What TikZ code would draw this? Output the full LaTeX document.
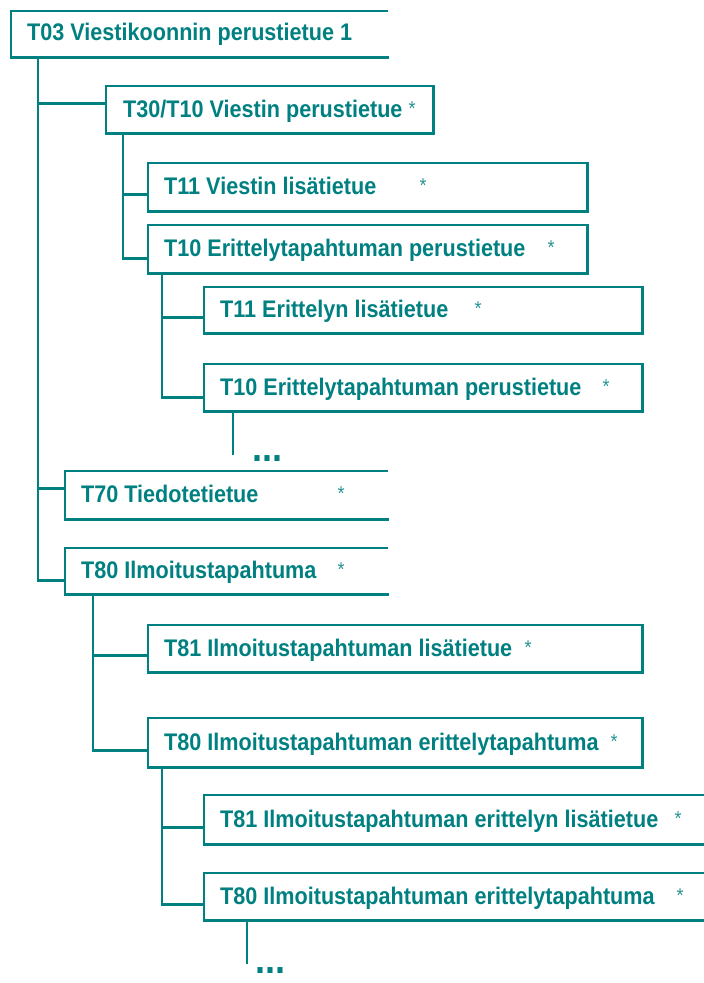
\documentclass[tikz,border=0pt]{standalone}
\usepackage{fontspec}
\setmainfont{Liberation Sans}[FakeStretch=0.9]
\definecolor{tl}{RGB}{0,128,128}
\tikzset{
  boxn/.style={draw=none, inner sep=0pt, anchor=north west, rectangle},
  lbl/.style={anchor=base west, inner sep=0pt, text=tl, font=\fontsize{24}{28}\selectfont\bfseries},
  starn/.style={anchor=base, inner sep=0pt, text=tl!85, font=\fontsize{20}{24}\selectfont},
  dotsn/.style={anchor=base west, inner sep=0pt, text=tl, font=\fontsize{40}{44}\selectfont\bfseries},
  thinb/.style={draw=tl, line width=1.6pt, line cap=rect},
  thickb/.style={draw=tl, line width=3pt, line cap=rect},
  conn/.style={draw=tl, line width=2.9pt},
}
\begin{document}
\begin{tikzpicture}[x=1pt,y=-1pt]
\useasboundingbox (0,0) rectangle (704,983);
% boxes
\node[boxn, minimum width=376pt, minimum height=46pt] (b1) at (11,11) {};
\node[boxn, minimum width=327pt, minimum height=47pt] (b2) at (106,86) {};
\node[boxn, minimum width=439pt, minimum height=48pt] (b3) at (148,163) {};
\node[boxn, minimum width=439pt, minimum height=48pt] (b4) at (148,225) {};
\node[boxn, minimum width=438pt, minimum height=46pt] (b5) at (204,287) {};
\node[boxn, minimum width=438pt, minimum height=47pt] (b6) at (204,364) {};
\node[boxn, minimum width=322pt, minimum height=48pt] (b7) at (65,471) {};
\node[boxn, minimum width=322pt, minimum height=46pt] (b8) at (65,548) {};
\node[boxn, minimum width=494pt, minimum height=47pt] (b9) at (148,625) {};
\node[boxn, minimum width=494pt, minimum height=49pt] (b10) at (148,718) {};
\node[boxn, minimum width=502pt, minimum height=49pt] (b11) at (204,795) {};
\node[boxn, minimum width=502pt, minimum height=47pt] (b12) at (204,873) {};
% closed boxes
\foreach \b in {b2,b3,b4,b5,b6,b9,b10}{
  \draw[thinb] (\b.south west) -- (\b.north west) -- (\b.north east);
  \draw[thickb] (\b.south west) -- (\b.south east) -- (\b.north east);
}
% boxes open on the right
\foreach \b in {b1,b7,b8,b11,b12}{
  \draw[thinb] (\b.north east) -- (\b.north west) -- (\b.south west);
  \draw[thickb] (\b.south west) -- (\b.south east);
}
% labels
\node[lbl] (l1) at (27,40) {T03 Viestikoonnin perustietue 1};
\node[lbl] (l2) at (123,117) {T30/T10 Viestin perustietue};
\node[lbl] (l3) at (164,194) {T11 Viestin lisätietue};
\node[lbl] (l4) at (164,256) {T10 Erittelytapahtuman perustietue};
\node[lbl] (l5) at (220,317) {T11 Erittelyn lisätietue};
\node[lbl] (l6) at (220,395) {T10 Erittelytapahtuman perustietue};
\node[lbl] (l7) at (81,502) {T70 Tiedotetietue};
\node[lbl] (l8) at (81,578) {T80 Ilmoitustapahtuma};
\node[lbl] (l9) at (164,656) {T81 Ilmoitustapahtuman lisätietue};
\node[lbl] (l10) at (164,750) {T80 Ilmoitustapahtuman erittelytapahtuma};
\node[lbl] (l11) at (220,827) {T81 Ilmoitustapahtuman erittelyn lisätietue};
\node[lbl] (l12) at (220,904) {T80 Ilmoitustapahtuman erittelytapahtuma};
% stars
\node[starn] (s2) at (412,115) {*};
\node[starn] (s3) at (423,192) {*};
\node[starn] (s4) at (551,254) {*};
\node[starn] (s5) at (478,315) {*};
\node[starn] (s6) at (606,393) {*};
\node[starn] (s7) at (341,500) {*};
\node[starn] (s8) at (341,576) {*};
\node[starn] (s9) at (528,654) {*};
\node[starn] (s10) at (614,748) {*};
\node[starn] (s11) at (678,825) {*};
\node[starn] (s12) at (680,902) {*};
% dots
\node[dotsn] (d1) at (252,461) {...};
\node[dotsn] (d2) at (255,973) {...};
\coordinate (e1) at (233,455);
\coordinate (e2) at (247,964);
% connectors
\draw[conn] ([xshift=27pt]b1.south west) |- ([yshift=6.5pt]b2.west);
\draw[conn] ([xshift=27pt]b1.south west) |- ([yshift=7pt]b7.west);
\draw[conn] ([xshift=27pt]b1.south west) |- ([yshift=-9pt]b8.west);
\draw[conn] ([xshift=17pt]b2.south west) |- ([yshift=-7pt]b3.west);
\draw[conn] ([xshift=17pt]b2.south west) |- ([yshift=-9pt]b4.west);
\draw[conn] ([xshift=14pt]b4.south west) |- ([yshift=-7pt]b5.west);
\draw[conn] ([xshift=14pt]b4.south west) |- ([yshift=-9.5pt]b6.west);
\draw[conn] ([xshift=29pt]b6.south west) -- (e1);
\draw[conn] ([xshift=28pt]b8.south west) |- ([yshift=-6.5pt]b9.west);
\draw[conn] ([xshift=28pt]b8.south west) |- ([yshift=-7.5pt]b10.west);
\draw[conn] ([xshift=14pt]b10.south west) |- ([yshift=-7.5pt]b11.west);
\draw[conn] ([xshift=14pt]b10.south west) |- ([yshift=-7.5pt]b12.west);
\draw[conn] ([xshift=43pt]b12.south west) -- (e2);
\end{tikzpicture}
\end{document}
